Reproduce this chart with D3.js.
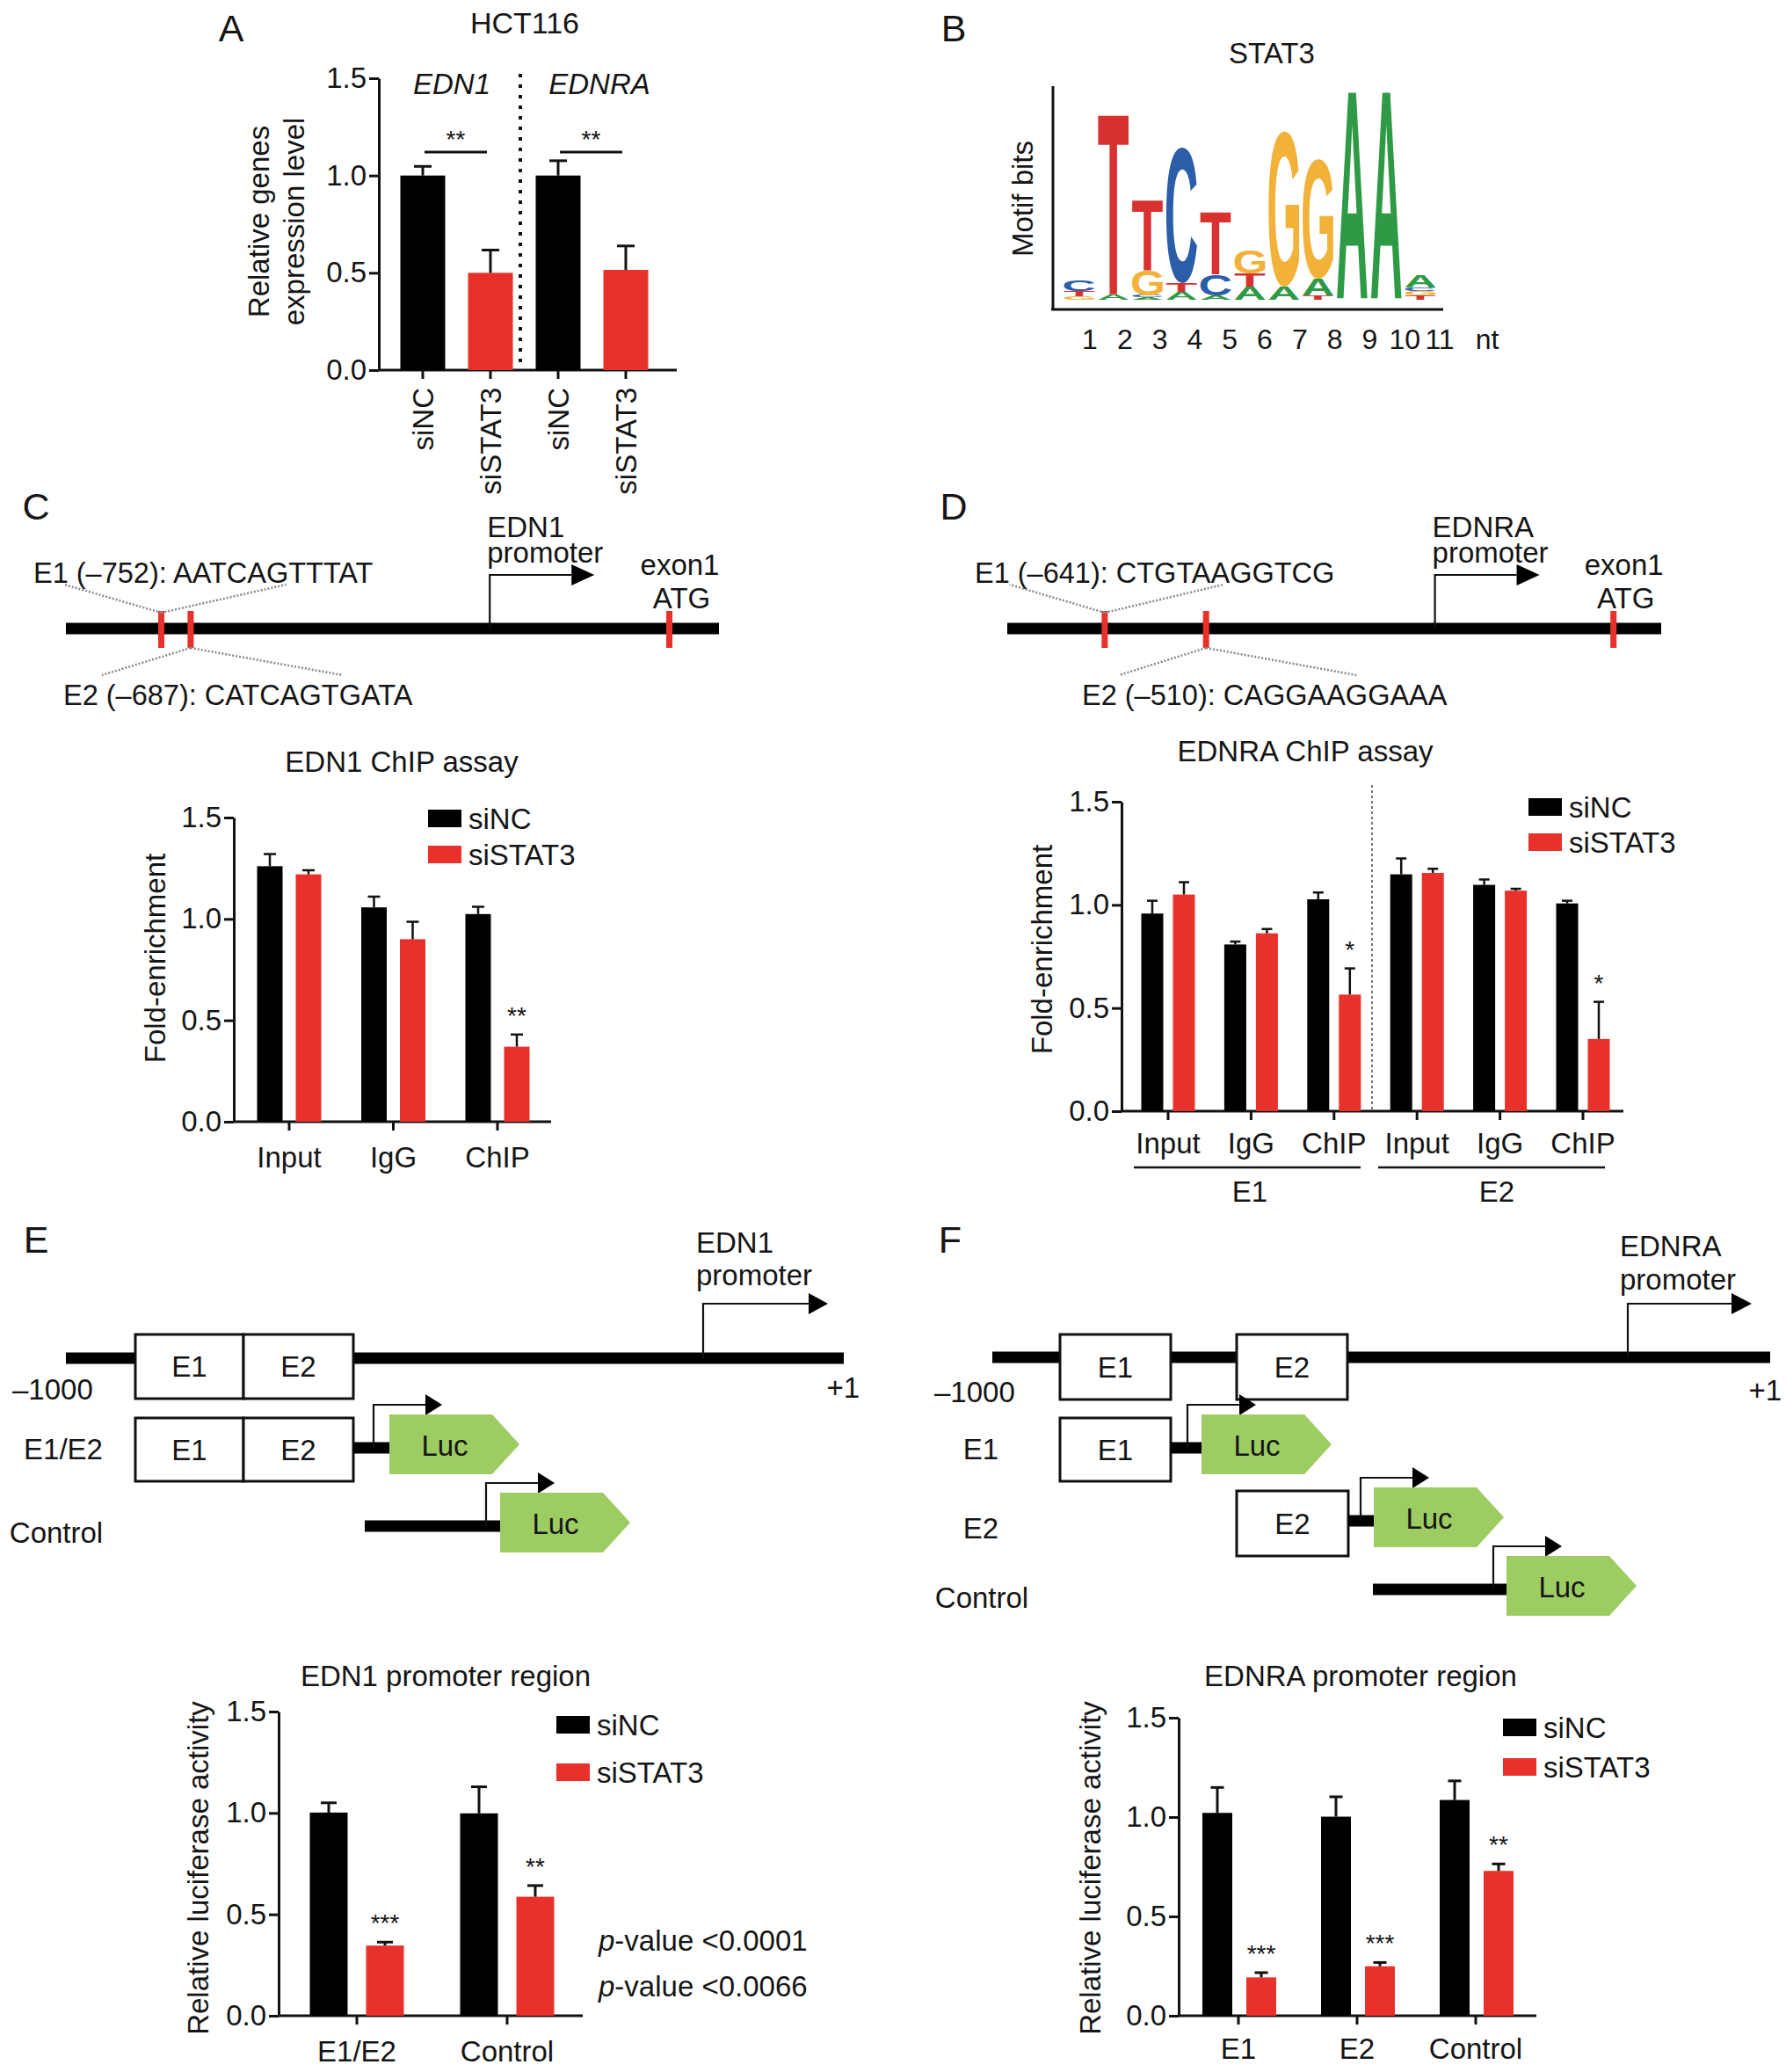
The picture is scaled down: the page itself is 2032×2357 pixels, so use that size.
<!DOCTYPE html>
<html>
<head>
<meta charset="utf-8">
<script src="https://cdn.jsdelivr.net/npm/d3@7"></script>
<style>
  body { margin: 0; background: #fff; }
  text { font-family: "Liberation Sans", Arial, sans-serif; fill: #151515; }
</style>
</head>
<body>
<div id="fig"></div>
<script>
// ---- data ----
// A: relative expression (HCT116)
var exprGenes = ["EDN1", "EDNRA"];
var exprLabels = ["siNC", "siSTAT3", "siNC", "siSTAT3"];
var exprMean = [1.00, 0.50, 1.00, 0.515];
var exprErr = [0.047, 0.117, 0.076, 0.123];

// B: STAT3 motif, letters per position bottom -> top, [base, bits]
var logoTicks = ["1", "2", "3", "4", "5", "6", "7", "8", "9", "10", "11"];
var logoStacks = [
  [["G", 0.03], ["T", 0.05], ["C", 0.09]],
  [["A", 0.05], ["T", 1.64]],
  [["A", 0.02], ["C", 0.02], ["G", 0.23], ["T", 0.64]],
  [["A", 0.07], ["T", 0.08], ["C", 1.23]],
  [["A", 0.04], ["C", 0.19], ["T", 0.57]],
  [["A", 0.12], ["T", 0.12], ["G", 0.21]],
  [["A", 0.12], ["G", 1.41]],
  [["T", 0.04], ["A", 0.15], ["G", 1.09]],
  [["A", 1.89]],
  [["A", 1.89]],
  [["T", 0.04], ["G", 0.04], ["C", 0.03], ["A", 0.11]]
];

// C: EDN1 ChIP assay
var chipCats = ["Input", "IgG", "ChIP"];
var edn1NC = [1.26, 1.057, 1.024];
var edn1NCErr = [0.06, 0.053, 0.036];
var edn1Si = [1.22, 0.90, 0.37];
var edn1SiErr = [0.02, 0.086, 0.06];
var edn1SiSig = ["", "", "**"];

// D: EDNRA ChIP assay (E1 then E2)
var ednraCats = ["Input", "IgG", "ChIP", "Input", "IgG", "ChIP"];
var ednraNC = [0.958, 0.808, 1.027, 1.148, 1.097, 1.007];
var ednraNCErr = [0.062, 0.014, 0.033, 0.077, 0.026, 0.013];
var ednraSi = [1.05, 0.862, 0.565, 1.155, 1.069, 0.35];
var ednraSiErr = [0.06, 0.021, 0.127, 0.02, 0.009, 0.18];
var ednraSiSig = ["", "", "*", "", "", "*"];

// E: EDN1 promoter luciferase
var lucECats = ["E1/E2", "Control"];
var lucENC = [1.002, 0.998];
var lucENCErr = [0.048, 0.131];
var lucESi = [0.346, 0.587];
var lucESiErr = [0.017, 0.055];
var lucESiSig = ["***", "**"];
var pValues = ["<0.0001", "<0.0066"];

// F: EDNRA promoter luciferase
var lucFCats = ["E1", "E2", "Control"];
var lucFNC = [1.021, 1.002, 1.086];
var lucFNCErr = [0.128, 0.10, 0.096];
var lucFSi = [0.193, 0.249, 0.729];
var lucFSiErr = [0.024, 0.019, 0.035];
var lucFSiSig = ["***", "***", "**"];

var RED = "#e8312a";
var GREEN = "#9dcc62";
var baseColor = { A: "#2f9a45", C: "#2b5ea8", G: "#f2b23a", T: "#d7322f" };
var FS = 33;

var W = 2032, H = 2357;
var svg = d3.select("#fig").append("svg")
    .attr("width", W).attr("height", H)
    .style("background", "#fff");

function txt(x, y, s, size, anchor) {
  return svg.append("text").attr("x", x).attr("y", y)
      .attr("font-size", size || FS)
      .attr("text-anchor", anchor || "middle")
      .attr("dominant-baseline", "central")
      .text(s);
}
function vlabel(x, y, s, size) {
  return svg.append("text")
      .attr("transform", "translate(" + x + "," + y + ") rotate(-90)")
      .attr("font-size", size || FS)
      .attr("text-anchor", "middle")
      .attr("dominant-baseline", "central")
      .text(s);
}
function line(x1, y1, x2, y2, w, col) {
  return svg.append("line").attr("x1", x1).attr("y1", y1).attr("x2", x2).attr("y2", y2)
      .attr("stroke", col || "#111").attr("stroke-width", w || 3);
}

// panel letters
[["A", 263, 32], ["B", 1085, 32], ["C", 41, 576], ["D", 1085, 576], ["E", 41, 1410], ["F", 1081, 1410]]
  .forEach(function(p){ txt(p[1], p[2], p[0], 43); });

// generic bar chart with y axis 0-1.5
function barChart(c) {
  var g = svg.append("g");
  var y = d3.scaleLinear().domain([0, 1.5]).range([c.y0, c.yTop]);
  var x = d3.scalePoint().domain(d3.range(c.cats.length)).range(c.xRange);

  var ya = g.append("g").attr("transform", "translate(" + c.ax + ",0)")
      .call(d3.axisLeft(y).tickValues([0, 0.5, 1, 1.5]).tickFormat(d3.format(".1f"))
            .tickSize(11).tickSizeOuter(0).tickPadding(3));
  ya.attr("font-size", FS).attr("font-family", null);
  ya.selectAll("path,line").attr("stroke", "#111").attr("stroke-width", 3);
  ya.selectAll("text").attr("fill", "#151515");

  g.append("line").attr("x1", c.ax).attr("x2", c.axRight).attr("y1", c.y0).attr("y2", c.y0)
      .attr("stroke", "#111").attr("stroke-width", 3);
  g.selectAll(null).data(c.cats).enter().append("line")
      .attr("x1", function(d, i){ return x(i); }).attr("x2", function(d, i){ return x(i); })
      .attr("y1", c.y0).attr("y2", c.y0 + 10)
      .attr("stroke", "#111").attr("stroke-width", 3);

  c.series.forEach(function(s) {
    var col = typeof s.color === "function" ? s.color : function(){ return s.color; };
    g.selectAll(null).data(s.mean).enter().append("rect")
        .attr("x", function(d, i){ return x(i) + s.off - c.bw / 2; })
        .attr("y", function(d){ return y(d); })
        .attr("width", c.bw)
        .attr("height", function(d){ return c.y0 - y(d); })
        .attr("fill", function(d, i){ return col(i); });
    var eb = g.selectAll(null).data(s.mean).enter().append("g");
    eb.append("line")
        .attr("x1", function(d, i){ return x(i) + s.off; })
        .attr("x2", function(d, i){ return x(i) + s.off; })
        .attr("y1", function(d){ return y(d); })
        .attr("y2", function(d, i){ return y(d + s.err[i]); })
        .attr("stroke", "#111").attr("stroke-width", c.ew || 3);
    eb.append("line")
        .attr("x1", function(d, i){ return x(i) + s.off - c.cap / 2; })
        .attr("x2", function(d, i){ return x(i) + s.off + c.cap / 2; })
        .attr("y1", function(d, i){ return y(d + s.err[i]); })
        .attr("y2", function(d, i){ return y(d + s.err[i]); })
        .attr("stroke", "#111").attr("stroke-width", c.ew || 3);
    if (s.sig) {
      g.selectAll(null).data(s.mean).enter().append("text")
          .attr("x", function(d, i){ return x(i) + s.off; })
          .attr("y", function(d, i){ return y(d + s.err[i]) - 12; })
          .attr("text-anchor", "middle").attr("font-size", 28)
          .text(function(d, i){ return s.sig[i]; });
    }
  });

  if (c.rotate) {
    g.selectAll(null).data(c.cats).enter().append("text")
        .attr("transform", function(d, i){ return "translate(" + x(i) + "," + (c.y0 + 20) + ") rotate(-90)"; })
        .attr("text-anchor", "end").attr("dominant-baseline", "central")
        .attr("font-size", FS).text(function(d){ return d; });
  } else {
    g.selectAll(null).data(c.cats).enter().append("text")
        .attr("x", function(d, i){ return x(i); })
        .attr("y", c.y0 + c.labelDy)
        .attr("text-anchor", "middle").attr("dominant-baseline", "central")
        .attr("font-size", FS).text(function(d){ return d; });
  }
  return { x: x, y: y };
}

function legend(x, y1, y2) {
  svg.append("rect").attr("x", x).attr("y", y1 - 10).attr("width", 38).attr("height", 20).attr("fill", "#000");
  txt(x + 46, y1, "siNC", FS, "start");
  svg.append("rect").attr("x", x).attr("y", y2 - 10).attr("width", 38).attr("height", 20).attr("fill", RED);
  txt(x + 46, y2, "siSTAT3", FS, "start");
}

// ---------------- A ----------------
txt(597, 26, "HCT116", 34);
var chartA = barChart({
  cats: exprLabels, ax: 431, axRight: 770, y0: 421, yTop: 89, xRange: [481, 712],
  bw: 51, cap: 20, ew: 3, rotate: true,
  series: [{ mean: exprMean, err: exprErr, off: 0, color: function(i){ return i % 2 ? RED : "#000"; } }]
});
vlabel(294, 252, "Relative genes", FS);
vlabel(334, 252, "expression level", FS);
svg.append("text").attr("x", 514).attr("y", 95).attr("font-size", 33).attr("font-style", "italic")
    .attr("text-anchor", "middle").attr("dominant-baseline", "central").text(exprGenes[0]);
svg.append("text").attr("x", 682).attr("y", 95).attr("font-size", 33).attr("font-style", "italic")
    .attr("text-anchor", "middle").attr("dominant-baseline", "central").text(exprGenes[1]);
line(592, 84, 592, 421, 4).attr("stroke-dasharray", "4,8");
[[0, 1], [2, 3]].forEach(function(pr) {
  var xa = chartA.x(pr[0]) + 2, xb = chartA.x(pr[1]) - 4;
  line(xa, 173, xb, 173, 3);
  svg.append("text").attr("x", (xa + xb) / 2).attr("y", 168).attr("text-anchor", "middle")
      .attr("font-size", 28).text("**");
});

// ---------------- B ----------------
txt(1447, 60, "STAT3", FS);
vlabel(1163, 226, "Motif bits", FS);
line(1198, 98, 1198, 353, 3);
line(1196, 352, 1642, 352, 3);
var logoX = d3.scalePoint().domain(d3.range(logoStacks.length)).range([1228, 1616]);
var logoY = d3.scaleLinear().domain([0, 2]).range([341, 91]);
var tickX = d3.scalePoint().domain(logoTicks).range([1240, 1638]);
var ctx = document.createElement("canvas").getContext("2d");
ctx.font = "bold 200px 'Liberation Sans'";
function letter(ch, xc, yTop, w, h) {
  if (h <= 0) return;
  var m = ctx.measureText(ch);
  var gw = m.actualBoundingBoxLeft + m.actualBoundingBoxRight;
  var gh = m.actualBoundingBoxAscent + m.actualBoundingBoxDescent;
  svg.append("text").text(ch)
      .attr("font-size", 200).attr("font-weight", "bold")
      .attr("transform", "translate(" + (xc - w / 2) + "," + yTop + ") scale(" + (w / gw) + "," + (h / gh) + ") translate(" +
            m.actualBoundingBoxLeft + "," + m.actualBoundingBoxAscent + ")")
      .style("fill", baseColor[ch]);
}
logoStacks.forEach(function(stack, i) {
  var acc = 0;
  stack.forEach(function(l) {
    var top = logoY(acc + l[1]), bot = logoY(acc);
    letter(l[0], logoX(i), top, 35, bot - top);
    acc += l[1];
  });
});
svg.selectAll(null).data(logoTicks).enter().append("text")
    .attr("x", function(d){ return tickX(d); }).attr("y", 386)
    .attr("text-anchor", "middle").attr("dominant-baseline", "central")
    .attr("font-size", 32).text(function(d){ return d; });
txt(1692, 386, "nt", 32);

// ---------------- C / D gene maps ----------------
function arrowHead(xTip, y, len, half) {
  svg.append("path")
      .attr("d", "M" + (xTip - len) + "," + (y - half) + "L" + xTip + "," + y + "L" + (xTip - len) + "," + (y + half) + "Z")
      .attr("fill", "#000");
}
function promoter(x, yBase, yTop, xShaft, xTip, half) {
  svg.append("path").attr("d", "M" + x + "," + yBase + "V" + yTop + "H" + xShaft)
      .attr("fill", "none").attr("stroke", "#111").attr("stroke-width", 2.2);
  arrowHead(xTip, yTop, xTip - xShaft, half);
}
function dotted(x1, y1, x2, y2) {
  line(x1, y1, x2, y2, 2.5, "#888").attr("stroke-dasharray", "2,2");
}
function geneMap(m) {
  line(m.x1, m.y, m.x2, m.y, 13, "#000");
  var xs = d3.scaleLinear().domain([0, 1]).range([m.x1, m.x2]);
  m.marks.forEach(function(f) {
    svg.append("rect").attr("x", xs(f) - 3.5).attr("y", m.y - 20).attr("width", 7).attr("height", 42).attr("fill", RED);
  });
  var e1 = xs(m.marks[0]), e2 = xs(m.marks[1]);
  dotted(e1, m.y - 18, e1 - m.fan1[0], m.y - 50);
  dotted(e1, m.y - 18, e1 + m.fan1[1], m.y - 50);
  dotted(e2, m.y + 22, e2 - m.fan2[0], m.y + 53);
  dotted(e2, m.y + 22, e2 + m.fan2[1], m.y + 53);
  var xp = xs(m.prom);
  promoter(xp, m.y, m.y - 61, xp + 93, xp + 119, 12);
  txt(xp - 3, m.y - 116, m.gene, FS, "start");
  txt(xp - 3, m.y - 87, "promoter", FS, "start");
  var xa = xs(m.marks[2]);
  txt(xa + 12, m.y - 73, "exon1", FS);
  txt(xa + 14, m.y - 35, "ATG", FS);
  txt(m.l1[0], m.y - 63, m.label1, 32.5, "start");
  txt(m.l2[0], m.y + 76, m.label2, 32.5, "start");
}
geneMap({ x1: 75, x2: 818, y: 715, marks: [0.146, 0.191, 0.924], prom: 0.649, gene: "EDN1",
          fan1: [110, 142], fan2: [101, 173], l1: [38], l2: [72],
          label1: "E1 (\u2013752): AATCAGTTTAT", label2: "E2 (\u2013687): CATCAGTGATA" });
geneMap({ x1: 1146, x2: 1890, y: 715, marks: [0.149, 0.304, 0.927], prom: 0.654, gene: "EDNRA",
          fan1: [108, 135], fan2: [99, 171], l1: [1109], l2: [1231],
          label1: "E1 (\u2013641): CTGTAAGGTCG", label2: "E2 (\u2013510): CAGGAAGGAAA" });

// ---------------- C chart ----------------
txt(457, 866, "EDN1 ChIP assay", FS);
barChart({
  cats: chipCats, ax: 266, axRight: 627, y0: 1276, yTop: 930, xRange: [329, 566],
  bw: 29, cap: 14, ew: 2.5, labelDy: 40,
  series: [
    { mean: edn1NC, err: edn1NCErr, off: -22, color: "#000" },
    { mean: edn1Si, err: edn1SiErr, off: 22, color: RED, sig: edn1SiSig }
  ]
});
legend(487, 931, 972);
vlabel(176, 1090, "Fold-enrichment", FS);

// ---------------- D chart ----------------
txt(1485, 854, "EDNRA ChIP assay", FS);
barChart({
  cats: ednraCats, ax: 1276, axRight: 1847, y0: 1264, yTop: 912, xRange: [1329, 1801],
  bw: 25, cap: 12, ew: 2.5, labelDy: 36,
  series: [
    { mean: ednraNC, err: ednraNCErr, off: -18, color: "#000" },
    { mean: ednraSi, err: ednraSiErr, off: 18, color: RED, sig: ednraSiSig }
  ]
});
line(1561, 893, 1561, 1262, 1.6, "#555").attr("stroke-dasharray", "3,3");
legend(1739, 918, 958);
vlabel(1185, 1080, "Fold-enrichment", FS);
line(1290, 1328, 1548, 1328, 2.5);
line(1568, 1328, 1826, 1328, 2.5);
txt(1422, 1355, "E1", FS);
txt(1703, 1355, "E2", FS);

// ---------------- E / F constructs ----------------
function thick(x1, x2, y) { line(x1, y, x2, y, 13, "#000"); }
function box(x1, x2, y1, y2, s) {
  svg.append("rect").attr("x", x1).attr("y", y1).attr("width", x2 - x1).attr("height", y2 - y1)
      .attr("fill", "#fff").attr("stroke", "#111").attr("stroke-width", 3);
  txt((x1 + x2) / 2, (y1 + y2) / 2, s, FS);
}
function luc(x1, y1, y2) {
  var body = x1 + 117, tip = x1 + 148;
  svg.append("path")
      .attr("d", "M" + x1 + "," + y1 + "H" + body + "L" + tip + "," + ((y1 + y2) / 2) + "L" + body + "," + y2 + "H" + x1 + "Z")
      .attr("fill", GREEN);
  txt(x1 + 63, (y1 + y2) / 2 + 1, "Luc", FS);
}
// construct: stub line, small promoter arrow, luciferase
function reporter(xStub, xLuc, y, arrowX) {
  thick(xStub, xLuc + 2, y);
  promoter(arrowX, y, y - 49, arrowX + 59, arrowX + 78, 12);
  luc(xLuc, y - 38, y + 30);
}

// E
thick(75, 960, 1545);
box(154, 277, 1518, 1591, "E1");
box(277, 402, 1518, 1591, "E2");
promoter(800, 1545, 1483, 920, 942, 12);
txt(792, 1413, "EDN1", FS, "start");
txt(792, 1450, "promoter", FS, "start");
txt(14, 1580, "\u20131000", FS, "start");
txt(978, 1578, "+1", FS, "end");
box(154, 277, 1613, 1685, "E1");
box(277, 402, 1613, 1685, "E2");
reporter(402, 443, 1647, 425);
txt(72, 1648, "E1/E2", FS);
reporter(415, 569, 1736, 553);
txt(64, 1743, "Control", FS);

// F
thick(1129, 2014, 1544);
box(1206, 1332, 1518, 1592, "E1");
box(1407, 1533, 1518, 1592, "E2");
promoter(1852, 1544, 1483, 1970, 1993, 12);
txt(1843, 1417, "EDNRA", FS, "start");
txt(1843, 1455, "promoter", FS, "start");
txt(1063, 1583, "\u20131000", FS, "start");
txt(2027, 1581, "+1", FS, "end");
box(1206, 1332, 1613, 1685, "E1");
reporter(1332, 1367, 1647, 1351);
txt(1116, 1648, "E1", FS);
box(1407, 1534, 1696, 1770, "E2");
reporter(1534, 1563, 1730, 1548);
txt(1116, 1738, "E2", FS);
reporter(1562, 1714, 1808, 1699);
txt(1117, 1817, "Control", FS);

// ---------------- E chart ----------------
txt(507, 1906, "EDN1 promoter region", FS);
barChart({
  cats: lucECats, ax: 317, axRight: 663, y0: 2293, yTop: 1947, xRange: [406, 577],
  bw: 43, cap: 18, ew: 3, labelDy: 40,
  series: [
    { mean: lucENC, err: lucENCErr, off: -32, color: "#000" },
    { mean: lucESi, err: lucESiErr, off: 32, color: RED, sig: lucESiSig }
  ]
});
legend(633, 1962, 2016);
vlabel(225, 2125, "Relative luciferase activity", FS);
pValues.forEach(function(p, i) {
  var t = svg.append("text").attr("x", 681).attr("y", 2207 + i * 52)
      .attr("font-size", FS).attr("dominant-baseline", "central");
  t.append("tspan").attr("font-style", "italic").text("p");
  t.append("tspan").text("-value " + p);
});

// ---------------- F chart ----------------
txt(1548, 1906, "EDNRA promoter region", FS);
barChart({
  cats: lucFCats, ax: 1341, axRight: 1748, y0: 2293, yTop: 1954, xRange: [1409, 1679],
  bw: 34, cap: 15, ew: 3, labelDy: 37,
  series: [
    { mean: lucFNC, err: lucFNCErr, off: -24, color: "#000" },
    { mean: lucFSi, err: lucFSiErr, off: 26, color: RED, sig: lucFSiSig }
  ]
});
legend(1710, 1965, 2010);
vlabel(1240, 2125, "Relative luciferase activity", FS);
</script>
</body>
</html>
